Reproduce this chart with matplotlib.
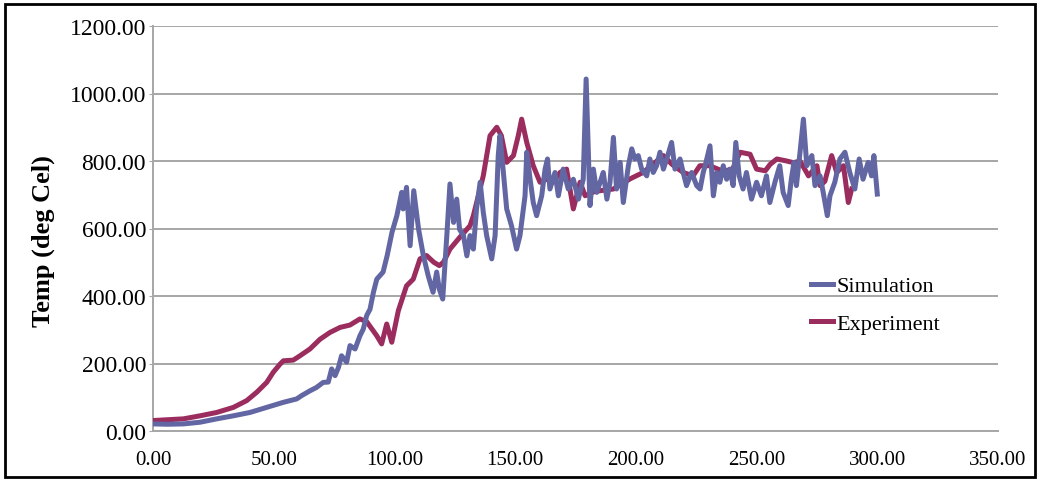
import matplotlib
matplotlib.use("Agg")
import matplotlib.pyplot as plt
from matplotlib.patches import Rectangle

# Experiment: time (s), temperature (deg C)
exp_time = [0, 5, 12.6, 19.5, 26.4, 33.3, 38.8, 43, 47.1, 49.8, 52.6, 54, 58.1, 60.9,
            65, 69.2, 73.3, 77.5, 81.6, 85.7, 88.5, 92.7, 94.7, 96.8, 98.9, 101.6, 105,
            107.8, 110.6, 113.3, 116.3, 118.6, 120.3, 123, 127.2, 131.3, 132.7, 136.8,
            139.6, 142.4, 144.3, 146.5, 149.3, 151.3, 152.7, 154.8, 157.5, 160.3, 163,
            165.8, 168.6, 171.3, 174.1, 176.9, 179, 183, 190.7, 197.6, 203, 207, 211.4,
            215, 219.6, 223.7, 226.5, 230.6, 236, 240, 243.2, 247.3, 250, 253.6, 255.6,
            258.4, 262.5, 265.3, 268, 271.5, 275, 276.3, 278.3, 281.1, 283.2, 286, 288,
            289.4]
exp_temp = [31, 33, 36, 45, 55, 70, 90, 115, 144, 174, 198, 208, 210, 223,
            243, 272, 292, 307, 314, 332, 324, 282, 258, 317, 263, 356, 430,
            450, 510, 520, 500, 490, 500, 539, 575, 608, 638, 756,
            875, 900, 875, 796, 816, 875, 924, 855, 786, 737, 746,
            737, 766, 776, 658, 737, 697, 710, 717, 747, 766, 790, 816,
            790, 766, 756, 786, 786, 770, 775, 826, 820, 776, 771, 790,
            806, 800, 795, 800, 756, 786, 727, 740, 816, 766, 786, 677,
            717]

# Simulation: time (s), temperature (deg C)
sim_time = [0, 6, 12.6, 19.5, 26.4, 33.3, 40.2, 47.1, 54, 59.5, 61.6, 65, 67.7, 70.5,
            72.6, 74, 75.4, 76.8, 78.1, 80.2, 81.6, 83.7, 85.7, 87.1, 88.5, 89.9, 91.3,
            92.7, 95.3, 97, 99, 101, 103, 103.6, 105, 106.5, 108, 110, 112, 114, 116,
            117.5, 118.6, 120, 121.7, 123, 124.5, 125.8, 127, 128.6, 130, 131.3, 132.7,
            134, 135.5, 136.8, 138.2, 140.3, 141.7, 143, 143.7, 145, 146.5, 148.5,
            150.6, 152, 154.1, 154.8, 156.2, 157.5, 158.9, 161, 162.4, 163.4, 164.4,
            166.5, 167.9, 169.9, 172, 174.1, 176.2, 178.2, 179.4, 181, 182.4, 183.8,
            185.2, 186.5, 188, 189.3, 190.7, 192, 193.5, 194.8, 196.9, 198.3, 199.6,
            201, 202.4, 204.5, 205.8, 207.2, 208.6, 210, 211.4, 212.8, 214.8, 216.2,
            218.3, 219.6, 221, 223.1, 225.2, 226.6, 227.9, 228.7, 230.7, 232.1, 233.5,
            234.8, 236.2, 237.6, 238.9, 240.3, 241.4, 242.8, 244.4, 245.8, 247.9, 250,
            252, 254.1, 255.5, 257.6, 259.6, 261, 263.1, 264.4, 265.5, 266.5, 268,
            269.4, 270.8, 272.9, 274.2, 276.3, 277.6, 279.3, 280.4, 282.4, 284.5,
            286.6, 288.6, 290.7, 292.5, 294.1, 296.2, 297.6, 298.6, 300]
sim_temp = [21, 20, 21, 26, 36, 45, 55, 70, 85, 95, 105, 119, 129, 144,
            145, 184, 164, 188, 223, 204, 253, 243, 282, 302, 342, 361, 411,
            450, 471, 520, 589, 638, 707, 658, 722, 549, 712, 598, 519, 460, 411,
            471, 420, 391, 579, 732, 618, 687, 597, 579, 519, 579, 539,
            658, 737, 648, 579, 510, 579, 816, 875, 776, 658, 608,
            539, 579, 697, 826, 746, 677, 638, 697, 776, 806, 717,
            766, 697, 776, 717, 746, 687, 746, 1043, 668, 776, 707,
            737, 766, 687, 737, 870, 717, 796, 677, 786, 836, 806,
            816, 776, 756, 806, 766, 786, 826, 776, 806, 855, 776,
            806, 766, 727, 766, 727, 717, 766, 786, 845, 697, 766,
            737, 786, 746, 776, 727, 855, 756, 717, 766, 687, 737,
            697, 756, 677, 737, 786, 707, 668, 746, 796, 727, 826,
            924, 786, 816, 727, 756, 707, 638, 697, 737, 806,
            826, 766, 717, 806, 746, 796, 756, 816, 702]

x_ticks = [0, 50, 100, 150, 200, 250, 300, 350]
y_ticks = [0, 200, 400, 600, 800, 1000, 1200]

sim_color = "#6266a3"
exp_color = "#9b2d5e"
grid_color = "#a6a6a6"

plt.rcParams["font.family"] = ["Liberation Serif", "DejaVu Serif"]

fig = plt.figure(figsize=(10.4, 4.81), dpi=100)
ax = fig.add_axes([153 / 1040, 1 - 432 / 481, 845 / 1040, 405 / 481])

ax.plot(exp_time, exp_temp, color=exp_color, lw=3.6, label="Experiment", zorder=3,
        solid_joinstyle="round")
ax.plot(sim_time, sim_temp, color=sim_color, lw=3.6, label="Simulation", zorder=4,
        solid_joinstyle="round")

ax.set_xlim(0, 350)
ax.set_ylim(0, 1200)
ax.set_xticks(x_ticks)
ax.set_yticks(y_ticks)
ax.set_xticklabels([f"{v:.2f}" for v in x_ticks])
ax.set_yticklabels([f"{v:.2f}" for v in y_ticks])
ax.tick_params(axis="y", labelsize=17, length=3, color=grid_color, pad=2)
ax.tick_params(axis="x", labelsize=15, length=0, pad=14)

ax.grid(axis="y", color=grid_color, lw=1.4)
ax.set_axisbelow(True)
for side in ["top", "right"]:
    ax.spines[side].set_visible(False)
for side in ["left", "bottom"]:
    ax.spines[side].set_color(grid_color)
    ax.spines[side].set_linewidth(1.4)

fig.text(43 / 1040, 1 - 241 / 481, "Temp (deg Cel)", rotation=90, fontsize=19,
         fontweight="bold", ha="center", va="center")

# legend order: Simulation first
handles, labels = ax.get_legend_handles_labels()
ax.legend(handles[::-1], labels[::-1], loc="upper left",
          bbox_to_anchor=(802 / 1040, 1 - 268 / 481), bbox_transform=fig.transFigure,
          frameon=False, fontsize=16, handlelength=1.0, handletextpad=0.15,
          borderaxespad=0, labelspacing=0.75)

# outer black frame
fig.patches.append(Rectangle((5 / 1040, 3 / 481), 1030 / 1040, 473 / 481,
                             transform=fig.transFigure, fill=False,
                             edgecolor="black", lw=2))

fig.savefig("out.png", dpi=100)
